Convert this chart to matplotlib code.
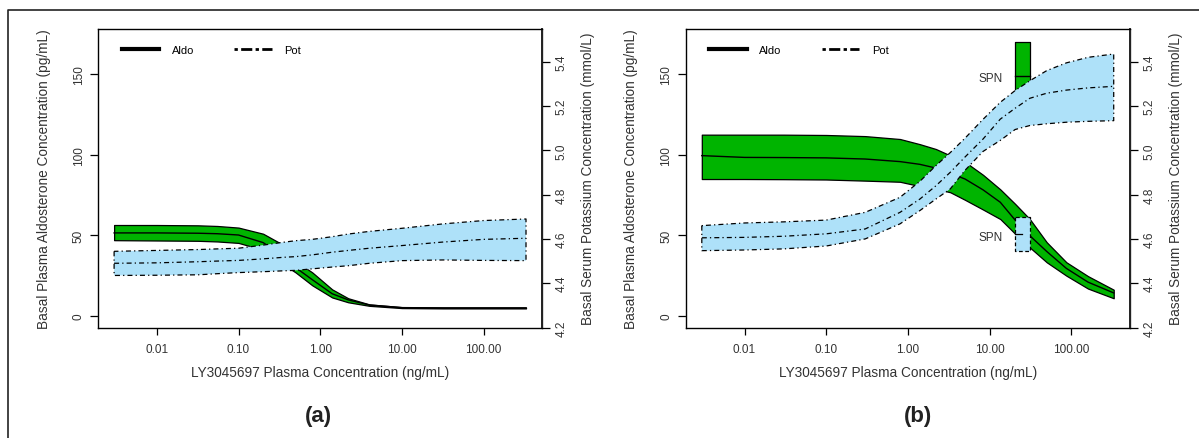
import numpy as np
import matplotlib
matplotlib.use('Agg')
import matplotlib.pyplot as plt
from matplotlib.lines import Line2D
from matplotlib.ticker import NullLocator

plt.rcParams['font.family'] = ['Liberation Sans', 'DejaVu Sans']

# Panel (a) : LY3045697 concentration grid (ng/mL)
conc_a = [0.003, 0.01, 0.032, 0.055, 0.1, 0.2, 0.355, 0.5, 0.8, 1.4, 2.2, 4.0, 10, 32, 100, 330]
aldo_a = [51.5, 51.5, 51.3, 51.0, 50.2, 45.5, 37, 30, 22.5, 13.8, 10, 6.8, 5.2, 5, 5, 5]
aldo_a_hi = [56.4, 56.4, 56.2, 55.8, 54.8, 51, 44, 34, 27, 16.5, 11, 7.2, 5.5, 5.3, 5.3, 5.3]
aldo_a_lo = [47, 46.8, 46.6, 46.2, 45.3, 41, 32, 27, 19, 11.5, 8.5, 6.3, 4.9, 4.7, 4.7, 4.7]
pot_a = [4.49, 4.492, 4.497, 4.5, 4.503, 4.51, 4.517, 4.52, 4.528, 4.54, 4.548, 4.558, 4.57, 4.586, 4.598, 4.603]
pot_a_hi = [4.544, 4.548, 4.552, 4.555, 4.558, 4.572, 4.585, 4.592, 4.598, 4.61, 4.622, 4.634, 4.648, 4.668, 4.683, 4.69]
pot_a_lo = [4.435, 4.436, 4.438, 4.443, 4.448, 4.452, 4.456, 4.458, 4.465, 4.473, 4.479, 4.49, 4.502, 4.505, 4.503, 4.502]

# Panel (b)
conc_b = [0.003, 0.01, 0.03, 0.1, 0.3, 0.8, 1.4, 2.2, 3.3, 5.0, 8.3, 13.5, 20.5, 31, 50, 87, 160, 330]
aldo_b = [99.4, 98.3, 98.2, 98.0, 97.3, 95.7, 94, 91.7, 88.5, 84.9, 78.2, 70.5, 59.5, 49.8, 40, 29.5, 21, 14.3]
aldo_b_hi = [112.4, 112.4, 112.4, 112.2, 111.5, 109.7, 106.5, 103.5, 99.5, 95.5, 87.5, 78.5, 69.5, 60.1, 45.7, 33.3, 24.7, 16.3]
aldo_b_lo = [84.9, 84.9, 84.8, 84.6, 83.9, 83.2, 80.5, 78.8, 76.7, 72, 66, 60.1, 51, 42.5, 33.3, 25, 17, 11]
pot_b = [4.605, 4.607, 4.612, 4.623, 4.645, 4.72, 4.78, 4.84, 4.901, 4.97, 5.051, 5.141, 5.19, 5.235, 5.258, 5.272, 5.282, 5.289]
pot_b_hi = [4.66, 4.672, 4.677, 4.685, 4.72, 4.788, 4.86, 4.931, 4.99, 5.055, 5.14, 5.217, 5.27, 5.314, 5.36, 5.395, 5.42, 5.435]
pot_b_lo = [4.547, 4.55, 4.555, 4.568, 4.60, 4.668, 4.728, 4.78, 4.826, 4.91, 4.995, 5.045, 5.094, 5.112, 5.12, 5.127, 5.131, 5.134]

# SPN (spironolactone) reference boxes : conc range, (median, low, high)
spn_conc = [20.5, 31.0]
spn_aldo = (148.6, 137.6, 170.0)
spn_pot = (4.622, 4.544, 4.698)

x_ticks = [0.01, 0.1, 1, 10, 100]
x_labels = ['0.01', '0.10', '1.00', '10.00', '100.00']
aldo_ticks = [0, 50, 100, 150]
pot_ticks = [4.2, 4.4, 4.6, 4.8, 5.0, 5.2, 5.4]

GREEN = '#00b400'
BLUE = '#aee1f9'
DASHDOT = (0, (4, 2.5, 1, 2.5))
TXT = '#333333'

fig = plt.figure(figsize=(11.99, 4.39), dpi=100)

# outer frame
fig.add_artist(Line2D([8 / 1199, 8 / 1199, 1.0], [0.0, 1 - 11 / 439, 1 - 11 / 439],
                      transform=fig.transFigure, color='#222222', lw=1.2))


def draw_panel(left, conc, aldo, aldo_lo, aldo_hi, pot, pot_lo, pot_hi, tag, tag_x, spn=False):
    ax = fig.add_axes([left, 0.2517, 0.3707, 0.680])
    ax.set_xscale('log')
    ax.fill_between(conc, aldo_lo, aldo_hi, facecolor=GREEN, edgecolor='black', linewidth=0.9, zorder=2)
    ax.plot(conc, aldo, color='black', lw=1, zorder=3)
    if spn:
        ax.fill_between(spn_conc, spn_aldo[1], spn_aldo[2], facecolor=GREEN, edgecolor='black',
                        linewidth=0.9, zorder=2)
        ax.plot(spn_conc, [spn_aldo[0], spn_aldo[0]], color='black', lw=1, zorder=3)
        ax.text(14.5, 147.5, 'SPN', ha='right', va='center', fontsize=8.5, color=TXT)
        ax.text(14.5, 49.2, 'SPN', ha='right', va='center', fontsize=8.5, color=TXT)
    ax.set_xlim(10 ** -2.72, 10 ** 2.72)
    ax.set_ylim(-7.13, 177.9)
    ax.set_xticks(x_ticks)
    ax.set_xticklabels(x_labels)
    ax.xaxis.set_minor_locator(NullLocator())
    ax.set_yticks(aldo_ticks)
    ax.set_yticklabels([str(v) for v in aldo_ticks], rotation=90, va='center')
    ax.tick_params(axis='x', length=5, width=0.9, pad=6, labelsize=8.5, labelcolor=TXT)
    ax.tick_params(axis='y', length=6, width=0.9, pad=3.5, labelsize=8.5, labelcolor=TXT)
    for s in ax.spines.values():
        s.set_color('#444444')
        s.set_linewidth(1.0)
    ax.set_xlabel('LY3045697 Plasma Concentration (ng/mL)', fontsize=9.8, color=TXT)
    ax.xaxis.set_label_coords(0.5, -0.127)
    ax.set_ylabel('Basal Plasma Aldosterone Concentration (pg/mL)', fontsize=9.8, color=TXT)
    ax.yaxis.set_label_coords(-47.5 / 444.5, 0.5)

    ax2 = ax.twinx()
    ax2.fill_between(conc, pot_lo, pot_hi, facecolor=BLUE, edgecolor='black', linewidth=0.9,
                     linestyle=DASHDOT, zorder=2)
    ax2.plot(conc, pot, color='black', lw=0.9, ls=DASHDOT, zorder=3)
    if spn:
        ax2.fill_between(spn_conc, spn_pot[1], spn_pot[2], facecolor=BLUE, edgecolor='black',
                         linewidth=0.9, linestyle=(0, (3, 2)), zorder=2)
        ax2.plot([spn_conc[0], np.sqrt(spn_conc[0] * spn_conc[1])], [spn_pot[0], spn_pot[0]],
                 color='black', lw=0.9, zorder=3)
    ax2.set_ylim(4.2005, 5.548)
    ax2.set_yticks(pot_ticks)
    ax2.set_yticklabels(['%.1f' % v for v in pot_ticks], rotation=90, va='center')
    ax2.tick_params(axis='y', length=6, width=0.9, pad=3.5, labelsize=8.5, labelcolor=TXT)
    ax2.spines['right'].set_linewidth(1.4)
    ax2.spines['right'].set_color('#222222')
    ax2.set_ylabel('Basal Serum Potassium Concentration (mmol/L)', fontsize=9.8, color=TXT)
    ax2.yaxis.set_label_coords(1 + 39 / 444.5, 0.5)

    handles = [Line2D([], [], color='black', lw=3),
               Line2D([], [], color='black', lw=2, ls=(0, (1.2, 1.2, 4, 1.2)))]
    ax2.legend(handles, ['Aldo', 'Pot'], loc='center left', bbox_to_anchor=(0.053, 0.931),
               ncol=2, frameon=False, fontsize=8, borderpad=0, borderaxespad=0,
               handlelength=3.4, handletextpad=1.1, columnspacing=3.6)

    fig.text(tag_x, 0.0508, tag, ha='center', va='center', fontsize=16, fontweight='bold', color='#222222')
    return ax, ax2


draw_panel(98 / 1199, conc_a, aldo_a, aldo_a_lo, aldo_a_hi, pot_a, pot_a_lo, pot_a_hi, '(a)', 318 / 1199)
draw_panel(685.7 / 1199, conc_b, aldo_b, aldo_b_lo, aldo_b_hi, pot_b, pot_b_lo, pot_b_hi, '(b)', 918 / 1199,
           spn=True)

fig.savefig('out.png', dpi=100)
